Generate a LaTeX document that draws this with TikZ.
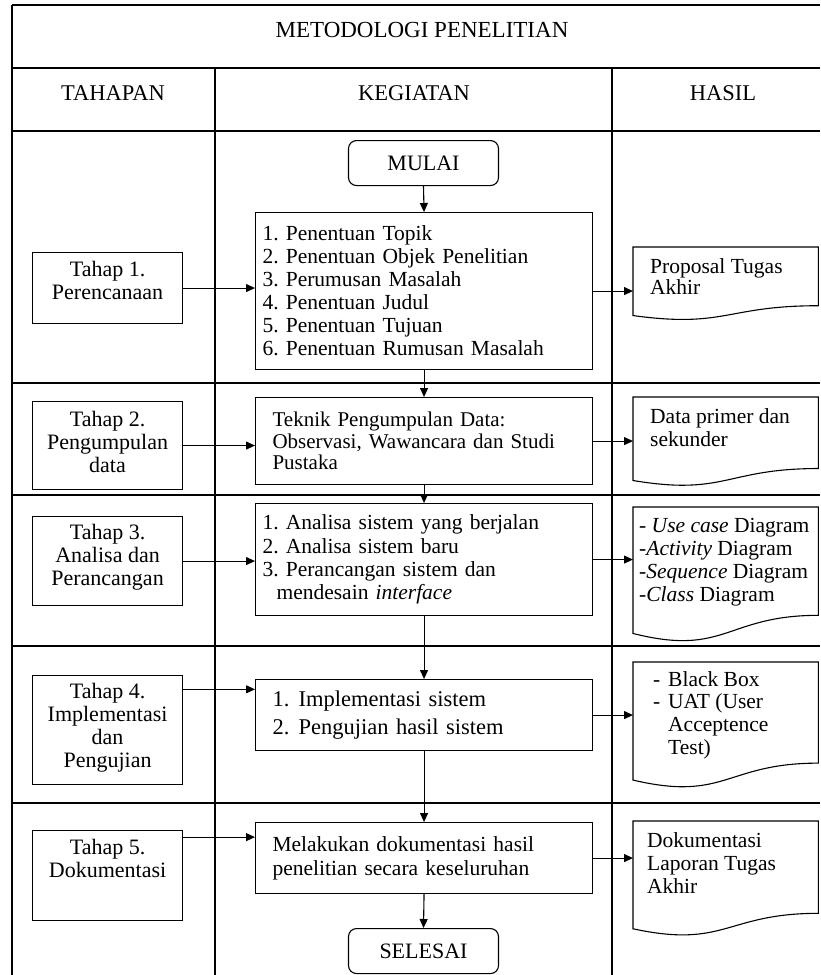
\documentclass[tikz,border=0pt]{standalone}
\usepackage{fontspec}
\setmainfont{Liberation Serif}
\usetikzlibrary{calc,arrows.meta}
\newcommand\docoutline[1]{%
  \draw[ln] (#1.north west) -- (#1.north east) -- ($(#1.north east)!0.8!(#1.south east)$)
    .. controls ($(#1.north)!0.8!(#1.south)$) and ($(#1.north)!1.107!(#1.south)$) ..
    ($(#1.north west)!0.934!(#1.south west)$) -- cycle;}
\begin{document}
\frenchspacing
\begin{tikzpicture}[x=1pt,y=-1pt,
  ln/.style={line width=1.1pt},
  arr/.style={line width=1.1pt,-{Triangle[length=9pt,width=8pt]}},
  hdr/.style={font=\fontsize{22.5}{24}\selectfont, inner sep=0pt},
  tahap/.style={draw, line width=1.1pt, inner sep=0pt, anchor=north west, font=\fontsize{22}{23}\selectfont},
  kbox/.style={draw, line width=1.1pt, anchor=north west, minimum width=337pt, inner ysep=0pt, align=left},
  term/.style={draw, line width=1.1pt, rounded corners=8pt, minimum width=150pt, minimum height=45pt, inner sep=0pt, anchor=north, font=\fontsize{22}{23}\selectfont},
  docn/.style={inner sep=0pt, anchor=north west}
]
\useasboundingbox (0,0) rectangle (820,975);
% table
\draw[ln] (12,5) -- (820,5);
\draw[ln] (12,5) -- (12,975);
\draw[ln] (12,68) -- (820,68);
\draw[ln] (12,131) -- (820,131);
\foreach \yy in {383,495,646,803} \draw[ln] (12,\yy) -- (820,\yy);
\draw[ln] (215,68) -- (215,975);
\draw[ln] (612,68) -- (612,975);
% headers
\node[hdr, font=\fontsize{23}{24}\selectfont] (title) at (422,30) {METODOLOGI PENELITIAN};
\node[hdr] (h1) at (113,93) {TAHAPAN};
\node[hdr] (h2) at (414,93) {KEGIATAN};
\node[hdr] (h3) at (723,93) {HASIL};
% tahap
\node[tahap] (t1) at (32,252) {\parbox[c][71pt][t]{150pt}{\centering\rule{0pt}{24pt}Tahap 1.\\Perencanaan}};
\node[tahap] (t2) at (32,401) {\parbox[c][88pt][t]{150pt}{\centering\rule{0pt}{25pt}Tahap 2.\\Pengumpulan\\data}};
\node[tahap] (t3) at (32,516) {\parbox[c][89pt][t]{150pt}{\centering\rule{0pt}{23pt}Tahap 3.\\Analisa dan\\Perancangan}};
\node[tahap] (t4) at (32,675) {\parbox[c][109pt][t]{150pt}{\centering\rule{0pt}{23pt}Tahap 4.\\Implementasi\\dan\\Pengujian}};
\node[tahap] (t5) at (32,830) {\parbox[c][90pt][t]{150pt}{\centering\rule{0pt}{24pt}Tahap 5.\\Dokumentasi}};
% kegiatan
\node[term] (mulai) at (423.5,140) {MULAI};
\node[kbox, minimum height=157pt, inner xsep=7pt, text width=323pt, font=\fontsize{21.5}{23}\selectfont] (b1) at (255,212)
  {1. Penentuan Topik\\2. Penentuan Objek Penelitian\\3. Perumusan Masalah\\4. Penentuan Judul\\5. Penentuan Tujuan\\6. Penentuan Rumusan Masalah};
\node[kbox, minimum height=87pt, inner xsep=17pt, text width=303pt, font=\fontsize{21}{21.5}\selectfont] (b2) at (255,397)
  {Teknik Pengumpulan Data:\\Observasi, Wawancara dan Studi\\Pustaka};
\node[kbox, minimum height=112pt, inner xsep=7pt, text width=323pt, font=\fontsize{21.5}{23.3}\selectfont] (b3) at (255,503)
  {1. Analisa sistem yang berjalan\\2. Analisa sistem baru\\3. Perancangan sistem dan\\\hspace*{14pt}mendesain \textit{interface}};
\node[kbox, minimum height=71pt, inner xsep=17pt, text width=303pt, font=\fontsize{22.5}{28}\selectfont] (b4) at (255,679)
  {\makebox[26pt][l]{1.}Implementasi sistem\\\makebox[26pt][l]{2.}Pengujian hasil sistem};
\node[kbox, minimum height=71pt, inner xsep=17pt, text width=303pt, font=\fontsize{21.5}{24}\selectfont] (b5) at (255,822)
  {Melakukan dokumentasi hasil\\penelitian secara keseluruhan};
\node[term] (selesai) at (423.5,928) {SELESAI};
% hasil
\node[docn, font=\fontsize{21.5}{21}\selectfont] (d1) at (633,247) {\parbox[c][73pt][t]{185pt}{\raggedright\leftskip=17pt\rule{0pt}{26pt}Proposal Tugas\\Akhir}};
\node[docn, font=\fontsize{21.5}{23}\selectfont] (d2) at (633,397) {\parbox[c][89pt][t]{185pt}{\raggedright\leftskip=17pt\rule{0pt}{26pt}Data primer dan\\sekunder}};
\node[docn, font=\fontsize{21.5}{23}\selectfont] (d3) at (633,507) {\parbox[c][135pt][t]{185pt}{\raggedright\leftskip=6pt\rule{0pt}{25pt}- \textit{Use case} Diagram\\-\textit{Activity} Diagram\\-\textit{Sequence} Diagram\\-\textit{Class} Diagram}};
\node[docn, font=\fontsize{21.5}{22.7}\selectfont] (d4) at (633,662) {\parbox[c][126pt][t]{185pt}{\raggedright\leftskip=20pt\rule{0pt}{24pt}\makebox[15pt][l]{-}Black Box\\\makebox[15pt][l]{-}UAT (User\\\hspace*{15pt}Acceptence\\\hspace*{15pt}Test)}};
\node[docn, font=\fontsize{21.5}{23}\selectfont] (d5) at (633,821) {\parbox[c][115pt][t]{185pt}{\raggedright\leftskip=14pt\rule{0pt}{26pt}Dokumentasi\\Laporan Tugas\\Akhir}};
\docoutline{d1}\docoutline{d2}\docoutline{d3}\docoutline{d4}\docoutline{d5}
% arrows
\draw[arr] (mulai.south) -- (b1.north);
\draw[arr] (b1.south) -- (b2.north);
\draw[arr] (b2.south) -- (b3.north);
\draw[arr] (b3.south) -- (b4.north);
\draw[arr] (b4.south) -- (b5.north);
\draw[arr] (b5.south) -- (selesai.north);
\draw[arr] (t1.east) -- (t1.east -| b1.west);
\draw[arr] (t2.east) -- (t2.east -| b2.west);
\draw[arr] (t3.east) -- (t3.east -| b3.west);
\coordinate (t4o) at ($(t4.north east)!0.13!(t4.south east)$);
\draw[arr] (t4o) -- (t4o -| b4.west);
\coordinate (t5o) at ($(t5.north east)!0.078!(t5.south east)$);
\draw[arr] (t5o) -- (t5o -| b5.west);
\draw[arr] (b1.east) -- (b1.east -| d1.west);
\draw[arr] (b2.east) -- (b2.east -| d2.west);
\draw[arr] (b3.east) -- (b3.east -| d3.west);
\draw[arr] (b4.east) -- (b4.east -| d4.west);
\draw[arr] (b5.east) -- (b5.east -| d5.west);
\end{tikzpicture}
\end{document}
